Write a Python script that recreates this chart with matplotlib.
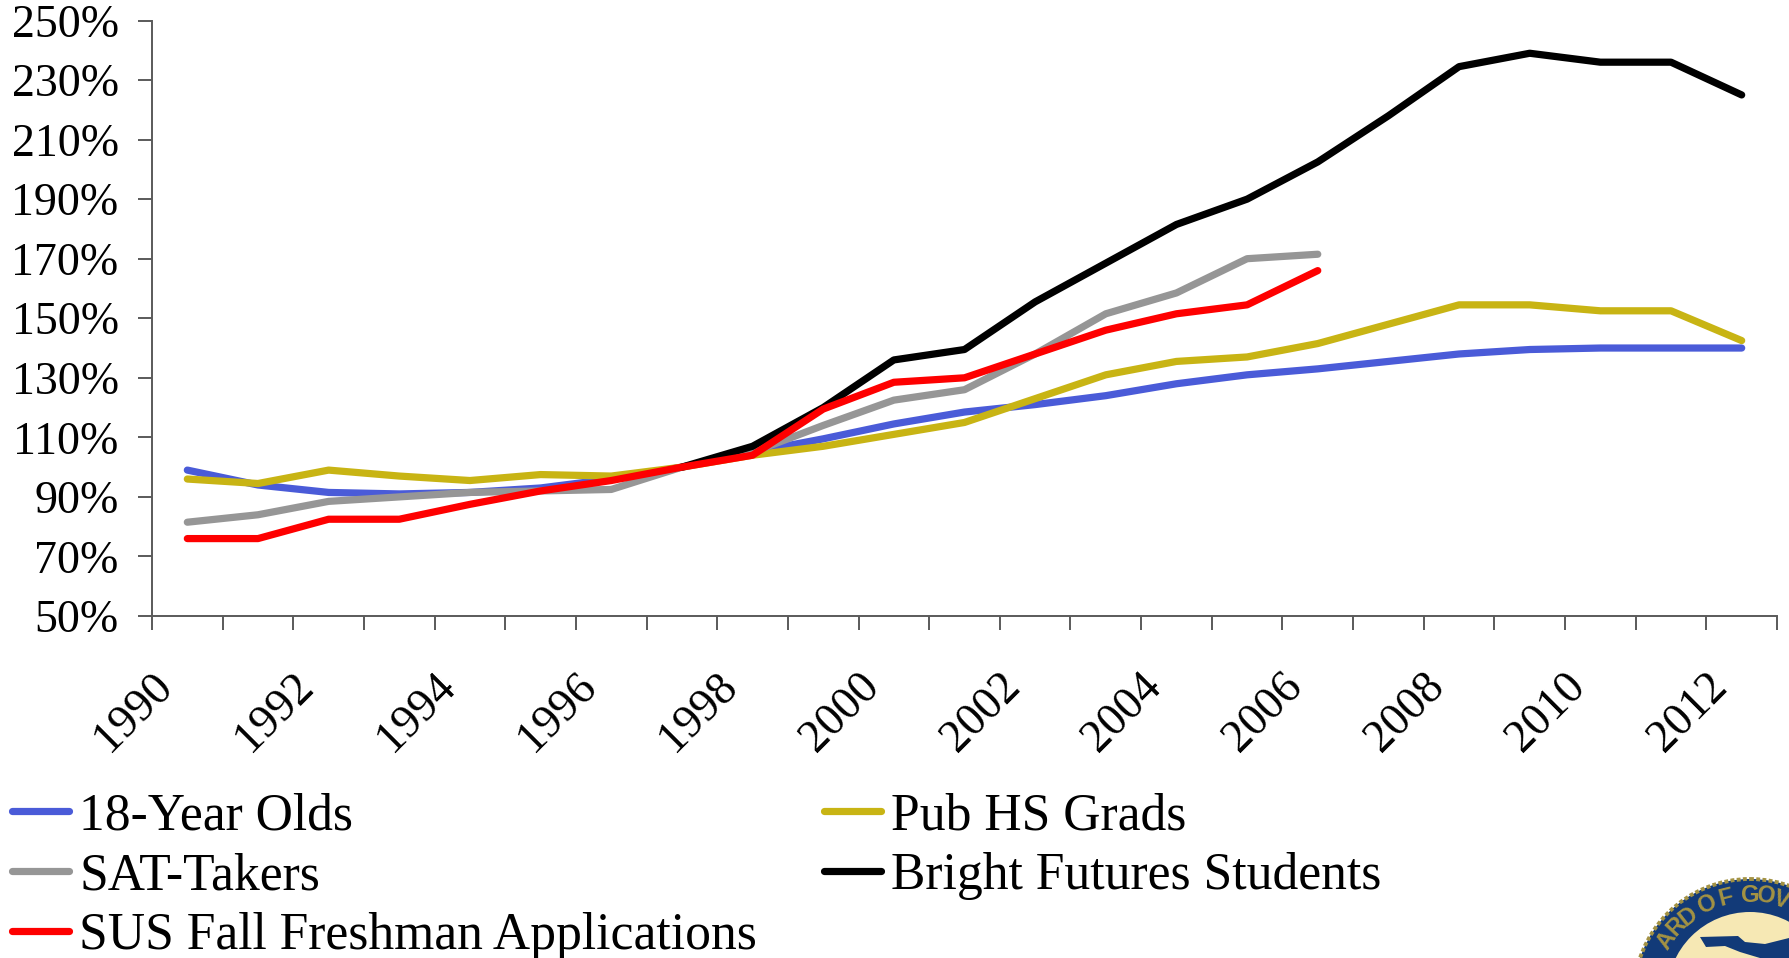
import math

import matplotlib
matplotlib.use("Agg")
import matplotlib.pyplot as plt
from matplotlib.lines import Line2D
from matplotlib.patches import Circle, Polygon
from matplotlib.transforms import ScaledTranslation

YEARS = list(range(1990, 2013))
TICK_YEARS = YEARS[::2]
YTICKS = list(range(50, 251, 20))

YEAR_OLDS = [99, 94, 91.5, 91, 91.5, 93, 96, 100, 105, 109.5, 114.5, 118.5, 121, 124, 128, 131, 133, 135.5, 138, 139.5, 140, 140, 140]
HS_GRADS = [96, 94.5, 99, 97, 95.5, 97.5, 97, 100, 104, 107, 111, 115, 123, 131, 135.5, 137, 141.5, 148, 154.5, 154.5, 152.5, 152.5, 142.5]
SAT = [81.5, 84, 88.5, 90, 91.5, 92, 92.5, 100, 105, 114, 122.5, 126, 138, 151.5, 158.5, 170, 171.5]
FUTURES = [100, 107, 120, 136, 139.5, 155.5, 168.5, 181.5, 190, 202.5, 218, 234.5, 239, 236, 236, 225]
APPS = [76, 76, 82.5, 82.5, 87.5, 92, 95.5, 100, 104, 119.5, 128.5, 130, 138, 146, 151.5, 154.5, 166]

BLUE = "#4a5bd8"
GOLD = "#c8b414"
GRAY = "#969696"
RED = "#fe0000"
BLACK = "#000000"
AXIS_GRAY = "#5a5a5a"
SEAL_GOLD = "#a39243"
SEAL_NAVY = "#123a78"
SEAL_CREAM = "#f6e8b4"
FONT_SIZE = 16.5
LEGEND_SIZE = 18.6

plt.rcParams["font.family"] = ["Liberation Serif", "DejaVu Serif"]

fig = plt.figure(figsize=(1789 / 200, 958 / 200), dpi=200)
ax = fig.add_axes([152 / 1789, 1 - 616 / 958, (1777 - 152) / 1789, (616 - 20.5) / 958])

xpos = [y + 0.5 for y in YEARS]
lw = 2.6
ax.plot(xpos, YEAR_OLDS, color=BLUE, lw=lw, solid_capstyle="round")
ax.plot(xpos, HS_GRADS, color=GOLD, lw=lw, solid_capstyle="round")
ax.plot(xpos[:len(SAT)], SAT, color=GRAY, lw=lw, solid_capstyle="round")
ax.plot(xpos[7:], FUTURES, color=BLACK, lw=lw, solid_capstyle="round")
ax.plot(xpos[:len(APPS)], APPS, color=RED, lw=lw, solid_capstyle="round")

ax.set_xlim(1990, 2013)
ax.set_ylim(50, 250)
ax.set_yticks(YTICKS)
ax.set_yticklabels([f"{v}%" for v in YTICKS], fontsize=FONT_SIZE)
ax.set_xticks(YEARS + [2013])
ax.set_xticklabels([str(y) if y in TICK_YEARS else "" for y in YEARS] + [""], fontsize=FONT_SIZE,
                   rotation=45, ha="right", va="center", rotation_mode="anchor")
ax.tick_params(axis="both", direction="out", length=5, width=0.7, color=AXIS_GRAY)
ax.tick_params(axis="y", pad=7)
ax.tick_params(axis="x", pad=0)
for label in ax.get_xticklabels():
    label.set_transform(label.get_transform() + ScaledTranslation(14 / 200, -50 / 200, fig.dpi_scale_trans))
ax.spines["top"].set_visible(False)
ax.spines["right"].set_visible(False)
ax.spines["left"].set_linewidth(0.7)
ax.spines["bottom"].set_linewidth(0.7)
ax.spines["left"].set_color(AXIS_GRAY)
ax.spines["bottom"].set_color(AXIS_GRAY)

# legend is filled by columns, the reference reads by rows
legend_items = [
    ("18-Year Olds", BLUE),
    ("SAT-Takers", GRAY),
    ("SUS Fall Freshman Applications", RED),
    ("Pub HS Grads", GOLD),
    ("Bright Futures Students", BLACK),
]
handles = [Line2D([], [], color=c, lw=lw, solid_capstyle="round") for _, c in legend_items]
fig.legend(handles, [t for t, _ in legend_items], ncol=2, loc="lower left", bbox_to_anchor=(12 / 1789, -0.002),
           frameon=False, fontsize=LEGEND_SIZE, handlelength=1.1, handletextpad=0.2, columnspacing=1.3,
           labelspacing=0.23, borderpad=0, borderaxespad=0)

# seal in the corner, cut by the figure edge
seal = fig.add_axes([0, 0, 1, 1], facecolor="none")
seal.set_xlim(0, 1789)
seal.set_ylim(958, 0)
seal.axis("off")
cx, cy = 1750, 995
seal.add_patch(Circle((cx, cy), 116, fc=SEAL_NAVY, ec=SEAL_GOLD, lw=1.4, ls=(0, (1, 0.6))))
seal.add_patch(Circle((cx, cy), 83, fc=SEAL_CREAM, ec="none"))
seal.add_patch(Polygon([(1700, 937), (1738, 936), (1745, 942), (1765, 944), (1789, 938), (1789, 958), (1760, 958), (1740, 952), (1725, 946), (1706, 947)],
                       fc=SEAL_NAVY, ec="none"))
for ch, ang in zip("ARD OF GOV", [-57, -47, -38, 0, -25, -14, 0, 0, 9, 18]):
    if ch == " ":
        continue
    a = math.radians(ang)
    seal.text(cx + 100 * math.sin(a), cy - 100 * math.cos(a), ch, fontsize=8.5, weight="bold", color=SEAL_GOLD,
              ha="center", va="center", rotation=-ang, rotation_mode="anchor", family=["Liberation Sans"])

fig.savefig("out.png", dpi=200)
